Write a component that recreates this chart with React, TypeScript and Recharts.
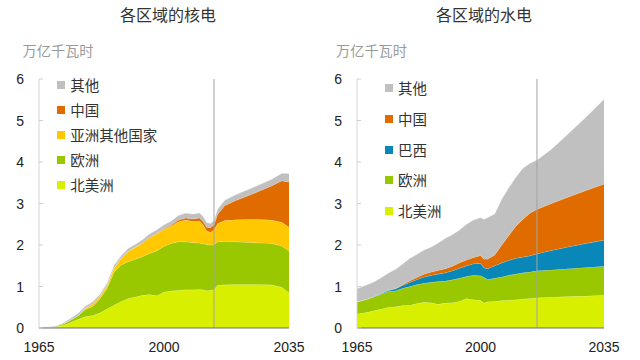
import React from 'react';
import { AreaChart, Area, XAxis, YAxis, ReferenceLine, Legend } from 'recharts';

// ---------- Nuclear (各区域的核电) ----------
const nuclearYears = [1965, 1968, 1970, 1972, 1974, 1976, 1978, 1980, 1982, 1984, 1986, 1988, 1990, 1992, 1994, 1996, 1998, 2000, 2002, 2004, 2006, 2008, 2010, 2011, 2012, 2013, 2014, 2015, 2017, 2020, 2025, 2030, 2033, 2035];
const nuclearNorthAmerica = [0.005, 0.01, 0.03, 0.07, 0.14, 0.21, 0.28, 0.30, 0.36, 0.46, 0.55, 0.64, 0.71, 0.75, 0.79, 0.81, 0.78, 0.87, 0.89, 0.91, 0.92, 0.92, 0.93, 0.92, 0.90, 0.91, 0.92, 1.03, 1.04, 1.05, 1.05, 1.04, 0.98, 0.85];
const nuclearEurope = [0.005, 0.01, 0.02, 0.04, 0.06, 0.09, 0.17, 0.22, 0.34, 0.49, 0.80, 0.88, 0.89, 0.91, 0.93, 0.99, 1.08, 1.10, 1.15, 1.17, 1.16, 1.14, 1.12, 1.11, 1.11, 1.09, 1.09, 1.05, 1.05, 1.03, 1.01, 1.00, 1.00, 1.01];
const nuclearOtherAsia = [0, 0, 0, 0, 0, 0.01, 0.03, 0.06, 0.06, 0.07, 0.10, 0.16, 0.25, 0.29, 0.33, 0.38, 0.41, 0.41, 0.42, 0.48, 0.52, 0.51, 0.53, 0.45, 0.33, 0.31, 0.35, 0.44, 0.50, 0.53, 0.56, 0.56, 0.57, 0.57];
const nuclearChina = [0, 0, 0, 0, 0, 0, 0, 0, 0, 0, 0, 0, 0, 0, 0.01, 0.01, 0.01, 0.015, 0.02, 0.04, 0.05, 0.06, 0.07, 0.08, 0.09, 0.11, 0.13, 0.22, 0.36, 0.46, 0.62, 0.82, 1.00, 1.09];
const nuclearOthers = [0.01, 0.01, 0.01, 0.02, 0.04, 0.05, 0.05, 0.05, 0.05, 0.05, 0.06, 0.06, 0.07, 0.07, 0.07, 0.08, 0.09, 0.09, 0.10, 0.11, 0.12, 0.12, 0.12, 0.12, 0.11, 0.10, 0.10, 0.12, 0.13, 0.14, 0.15, 0.16, 0.18, 0.20];
const nuclearDivider = 2014;

// ---------- Hydro (各区域的水电) ----------
const hydroYears = [1965, 1968, 1970, 1972, 1974, 1976, 1978, 1980, 1982, 1984, 1986, 1988, 1990, 1992, 1994, 1996, 1998, 2000, 2001, 2002, 2004, 2006, 2008, 2010, 2012, 2014, 2016, 2020, 2025, 2030, 2035];
const hydroNorthAmerica = [0.34, 0.38, 0.42, 0.46, 0.50, 0.51, 0.54, 0.55, 0.59, 0.62, 0.61, 0.57, 0.60, 0.61, 0.64, 0.71, 0.68, 0.67, 0.60, 0.63, 0.64, 0.66, 0.67, 0.68, 0.70, 0.71, 0.73, 0.74, 0.76, 0.77, 0.79];
const hydroEurope = [0.29, 0.32, 0.34, 0.36, 0.38, 0.39, 0.42, 0.45, 0.46, 0.46, 0.49, 0.55, 0.53, 0.55, 0.56, 0.53, 0.59, 0.59, 0.62, 0.54, 0.56, 0.57, 0.60, 0.62, 0.63, 0.64, 0.65, 0.66, 0.67, 0.69, 0.70];
const hydroBrazil = [0, 0, 0.01, 0.02, 0.03, 0.05, 0.07, 0.10, 0.12, 0.15, 0.17, 0.18, 0.20, 0.22, 0.24, 0.26, 0.28, 0.30, 0.23, 0.26, 0.30, 0.34, 0.36, 0.38, 0.38, 0.39, 0.41, 0.47, 0.53, 0.58, 0.63];
const hydroChina = [0, 0, 0, 0, 0, 0.005, 0.02, 0.04, 0.05, 0.07, 0.08, 0.09, 0.10, 0.11, 0.13, 0.14, 0.15, 0.19, 0.21, 0.23, 0.26, 0.43, 0.60, 0.77, 0.91, 1.03, 1.07, 1.13, 1.20, 1.28, 1.35];
const hydroOthers = [0.32, 0.35, 0.35, 0.38, 0.42, 0.465, 0.50, 0.54, 0.56, 0.58, 0.60, 0.66, 0.73, 0.76, 0.79, 0.86, 0.90, 0.91, 0.96, 1.00, 0.99, 1.10, 1.15, 1.18, 1.23, 1.20, 1.19, 1.30, 1.53, 1.77, 2.04];
const hydroDivider = 2016;

// ---------- Axes / labels ----------
const xTicks = [1965, 2000, 2035];
const yTicks = [0, 1, 2, 3, 4, 5, 6];
const unitLabel = '万亿千瓦时';
const nuclearTitle = '各区域的核电';
const hydroTitle = '各区域的水电';

const COLORS: Record<string, string> = {
  na: '#d9ef00',
  europe: '#99c800',
  asia: '#ffc800',
  brazil: '#0a87b9',
  china: '#e06c00',
  others: '#c0c0c0',
};

type Series = { key: string; name: string; values: number[] };

const nuclearSeries: Series[] = [
  { key: 'na', name: '北美洲', values: nuclearNorthAmerica },
  { key: 'europe', name: '欧洲', values: nuclearEurope },
  { key: 'asia', name: '亚洲其他国家', values: nuclearOtherAsia },
  { key: 'china', name: '中国', values: nuclearChina },
  { key: 'others', name: '其他', values: nuclearOthers },
];

const hydroSeries: Series[] = [
  { key: 'na', name: '北美洲', values: hydroNorthAmerica },
  { key: 'europe', name: '欧洲', values: hydroEurope },
  { key: 'brazil', name: '巴西', values: hydroBrazil },
  { key: 'china', name: '中国', values: hydroChina },
  { key: 'others', name: '其他', values: hydroOthers },
];

function buildRows(years: number[], series: Series[]) {
  return years.map((year, i) => {
    const row: Record<string, number> = { year };
    series.forEach((s) => {
      row[s.key] = s.values[i];
    });
    return row;
  });
}

const NUM_FONT = '"Liberation Sans", Arial, sans-serif';
const CJK_FONT = '"Noto Sans CJK SC", "Noto Sans", sans-serif';

const YTick = (props: any) => {
  const { x, y, payload } = props;
  const axisX = x + 15;
  return (
    <g>
      <line x1={axisX} x2={axisX + 4} y1={y} y2={y} stroke="#cfcfcf" strokeWidth={1} />
      <text x={x} y={y} textAnchor="end" dominantBaseline="central" fontSize={14} fill="#222" fontFamily={NUM_FONT}>
        {payload.value}
      </text>
    </g>
  );
};

function makeLegend(series: Series[], rowHeight: number, gap: number) {
  return () => (
    <div>
      {[...series].reverse().map((s) => (
        <div key={s.key} style={{ height: rowHeight, display: 'flex', alignItems: 'center' }}>
          <span style={{ width: 8, height: 8, background: COLORS[s.key], display: 'inline-block', marginRight: gap, flex: 'none' }} />
          <span style={{ fontFamily: CJK_FONT, fontSize: 14.5, color: '#333', lineHeight: '18px', whiteSpace: 'nowrap' }}>{s.name}</span>
        </div>
      ))}
    </div>
  );
}

type PanelProps = {
  years: number[];
  series: Series[];
  divider: number;
  yAxisWidth: number;
  marginRight: number;
  legendLeft: number;
  legendTop: number;
  legendRow: number;
  legendGap: number;
};

function Panel(p: PanelProps) {
  const data = buildRows(p.years, p.series);
  return (
    <AreaChart width={320} height={360} data={data} margin={{ top: 79, right: p.marginRight, bottom: 2, left: 0 }}>
      <XAxis
        dataKey="year"
        type="number"
        domain={[1965, 2035]}
        ticks={xTicks}
        interval={0}
        tickLine={false}
        tickSize={0}
        tickMargin={14}
        height={30}
        axisLine={{ stroke: '#6e6e6e', strokeWidth: 1 }}
        tick={{ fontSize: 14, fill: '#222', fontFamily: NUM_FONT }}
      />
      <YAxis
        type="number"
        domain={[0, 6]}
        ticks={yTicks}
        interval={0}
        width={p.yAxisWidth}
        tickLine={false}
        tickSize={0}
        tickMargin={15}
        axisLine={{ stroke: '#d4d4d4', strokeWidth: 1 }}
        tick={<YTick />}
      />
      <Legend
        layout="vertical"
        verticalAlign="middle"
        align="center"
        content={makeLegend(p.series, p.legendRow, p.legendGap)}
        wrapperStyle={{ left: p.legendLeft, top: p.legendTop, width: 120, margin: 0 }}
      />
      {p.series.map((s) => (
        <Area
          key={s.key}
          dataKey={s.key}
          name={s.name}
          stackId="a"
          type="linear"
          fill={COLORS[s.key]}
          fillOpacity={1}
          stroke="#ffffff"
          strokeOpacity={0.45}
          strokeWidth={0.8}
          isAnimationActive={false}
        />
      ))}
      <ReferenceLine x={p.divider} stroke="#a3a3a3" strokeWidth={1} />
    </AreaChart>
  );
}

export default function App() {
  return (
    <div style={{ position: 'absolute', left: 0, top: 0, width: 640, height: 360, background: '#fff' }}>
      <div style={{ position: 'absolute', left: 68, top: 3, width: 200, textAlign: 'center', fontFamily: CJK_FONT, fontSize: 16, lineHeight: '22px', color: '#333' }}>
        {nuclearTitle}
      </div>
      <div style={{ position: 'absolute', left: 384, top: 3, width: 200, textAlign: 'center', fontFamily: CJK_FONT, fontSize: 16, lineHeight: '22px', color: '#333' }}>
        {hydroTitle}
      </div>
      <div style={{ position: 'absolute', left: 22.5, top: 40, fontFamily: CJK_FONT, fontSize: 14.2, lineHeight: '20px', color: '#9a9a9a' }}>
        {unitLabel}
      </div>
      <div style={{ position: 'absolute', left: 336, top: 40, fontFamily: CJK_FONT, fontSize: 14.2, lineHeight: '20px', color: '#9a9a9a' }}>
        {unitLabel}
      </div>
      <div style={{ position: 'absolute', left: 0, top: 0 }}>
        <Panel
          years={nuclearYears}
          series={nuclearSeries}
          divider={nuclearDivider}
          yAxisWidth={39}
          marginRight={31}
          legendLeft={56.7}
          legendTop={72.5}
          legendRow={25}
          legendGap={5.5}
        />
      </div>
      <div style={{ position: 'absolute', left: 320, top: 0 }}>
        <Panel
          years={hydroYears}
          series={hydroSeries}
          divider={hydroDivider}
          yAxisWidth={37}
          marginRight={36}
          legendLeft={65}
          legendTop={73}
          legendRow={30.7}
          legendGap={5}
        />
      </div>
    </div>
  );
}
